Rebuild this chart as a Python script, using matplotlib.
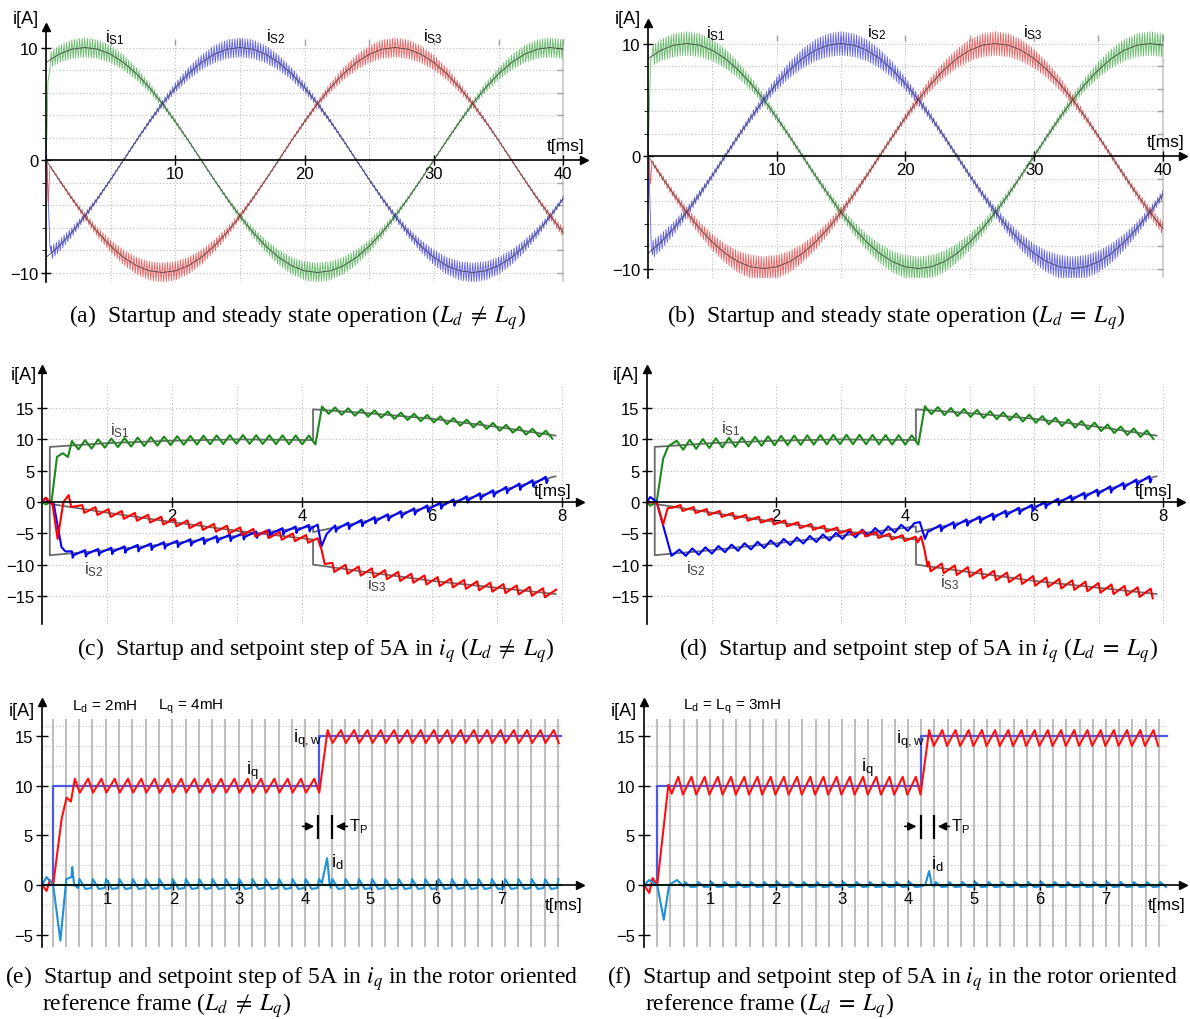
import numpy as np
import matplotlib
matplotlib.use("Agg")
import matplotlib.pyplot as plt

plt.rcParams['font.family'] = ['Liberation Sans', 'DejaVu Sans']
plt.rcParams['mathtext.fontset'] = 'stix'

W, H = 1190, 1020

# ---------------- (a)/(b): phase currents, fundamental read every 1 ms
T_SINE = list(range(41))
IS1 = [8.66, 9.40, 9.85, 10.0, 9.85, 9.40, 8.66, 7.66, 6.43, 5.0, 3.42, 1.74, 0.0,
       -1.74, -3.42, -5.0, -6.43, -7.66, -8.66, -9.40, -9.85, -10.0, -9.85, -9.40,
       -8.66, -7.66, -6.43, -5.0, -3.42, -1.74, 0.0, 1.74, 3.42, 5.0, 6.43, 7.66,
       8.66, 9.40, 9.85, 10.0, 9.85]
IS2 = [-8.66, -7.66, -6.43, -5.0, -3.42, -1.74, 0.0, 1.74, 3.42, 5.0, 6.43, 7.66,
       8.66, 9.40, 9.85, 10.0, 9.85, 9.40, 8.66, 7.66, 6.43, 5.0, 3.42, 1.74, 0.0,
       -1.74, -3.42, -5.0, -6.43, -7.66, -8.66, -9.40, -9.85, -10.0, -9.85, -9.40,
       -8.66, -7.66, -6.43, -5.0, -3.42]
IS3 = [0.0, -1.74, -3.42, -5.0, -6.43, -7.66, -8.66, -9.40, -9.85, -10.0, -9.85,
       -9.40, -8.66, -7.66, -6.43, -5.0, -3.42, -1.74, 0.0, 1.74, 3.42, 5.0, 6.43,
       7.66, 8.66, 9.40, 9.85, 10.0, 9.85, 9.40, 8.66, 7.66, 6.43, 5.0, 3.42, 1.74,
       0.0, -1.74, -3.42, -5.0, -6.43]

# startup samples (t [ms], i [A])
A_START = {'g': ([0, 0.08, 0.15, 0.3], [0, 2.5, 7.0, 8.0]),
           'b': ([0, 0.05, 0.3, 0.4], [0, 0.5, -7.6, -8.2]),
           'r': ([0, 0.08, 0.17, 0.3], [0, -0.3, -3.8, -0.6])}
B_START = {'g': ([0, 0.08, 0.2, 0.3], [0, 3.0, 8.5, 8.9]),
           'b': ([0, 0.05, 0.25, 0.35], [0, 0.3, -8.0, -8.8]),
           'r': ([0, 0.1, 0.2, 0.3], [0, -0.5, -2.5, -0.5])}
A_RIPPLE = (0.12, 0.85)   # ripple half height near zero / near peak
B_RIPPLE = (0.25, 1.05)
PWM_PERIOD = 0.2

# ---------------- (c)/(d): setpoints of the phase currents
REF_T_PRE = [0.12, 1.0, 2.0, 3.0, 4.17]
REF_T_POST = [4.17, 5.0, 6.0, 7.0, 7.9]
REF1_PRE = [8.8, 9.4, 9.8, 10.0, 9.9]
REF1_POST = [14.8, 14.2, 13.3, 12.0, 10.6]
REF2_PRE = [-8.5, -7.7, -6.6, -5.4, -3.9]
REF2_POST = [-4.8, -3.0, -0.7, 1.7, 4.1]
REF3_PRE = [-0.3, -1.7, -3.2, -4.6, -6.0]
REF3_POST = [-10.0, -11.2, -12.6, -13.7, -14.7]

TP = 0.2025
TP_F = 0.2

# tooth shapes: (fraction of period, multiple of half height)
SYM = [(0, 1), (0.5, -1)]
FALL = [(0, 1), (0.15, -1)]
SPIKE = [(0, 0.8), (0.06, -1.8), (0.15, -0.8)]
IQ_SHAPE = [(0, 1), (0.37, -1)]
ID_SHAPE = [(0, -0.8), (0.1, 1.0), (0.55, -1.0)]

C_TRACES = {
    'g': dict(start=([0, 0.06, 0.12, 0.15, 0.23, 0.32, 0.40], [0, -0.4, 0, 0.3, 7.2, 7.8, 7.2]),
              p0=0.46, amp=(0.7, 0.55), shape=(SYM, SYM), switch=4.25, step=([], [])),
    'r': dict(start=([0, 0.06, 0.12, 0.16, 0.24, 0.33, 0.41, 0.45], [0, 0.7, 0, -0.3, -5.9, 0, 1.1, -0.8]),
              p0=0.62, amp=(0.6, 0.7), shape=(FALL, FALL), switch=4.2,
              step=([4.24, 4.30, 4.35], [-5.8, -7.6, -9.9])),
    'b': dict(start=([0, 0.05, 0.12, 0.18, 0.30, 0.36], [0, 0.6, -0.1, -0.3, -7.2, -7.9]),
              p0=0.46, amp=(0.4, 0.4), shape=(SPIKE, SPIKE), switch=4.2,
              step=([4.24, 4.30, 4.38], [-3.6, -7.1, -5.1])),
}
D_TRACES = {
    'g': dict(start=([0, 0.05, 0.15, 0.25, 0.33], [0, -0.6, 0, 6.9, 8.9]),
              p0=0.46, amp=(0.75, 0.6), shape=(SYM, SYM), switch=4.25, step=([], [])),
    'r': dict(start=([0, 0.05, 0.15, 0.25, 0.32, 0.40], [0, -0.1, 0, -3.6, -1.0, -0.9]),
              p0=0.52, amp=(0.45, 0.75), shape=(FALL, FALL), switch=4.2,
              step=([4.25, 4.30, 4.35], [-5.5, -7.5, -10.3])),
    'b': dict(start=([0, 0.05, 0.15, 0.38], [0, 0.8, 0, -8.6]),
              p0=0.5, amp=(0.55, 0.4), shape=(SYM, SPIKE), switch=4.2,
              step=([4.23, 4.31, 4.36], [-3.2, -5.9, -4.6])),
}

# ---------------- (e)/(f): rotor frame currents
E_IQW_T = [0, 0.17, 0.17, 4.21, 4.21, 7.9]
F_IQW_T = [0, 0.19, 0.19, 4.19, 4.19, 7.92]
IQW_V = [0, 0, 10, 10, 15, 15]
E_IQ = dict(start=([0, 0.07, 0.12, 0.17, 0.30, 0.375, 0.44], [0, -0.6, 0.5, 0, 6.7, 8.8, 8.4]),
            p0=0.5, amp=(0.7, 0.65), ref=(10.0, 14.95), shape=IQ_SHAPE, switch=4.25, step=([], []))
E_ID = dict(start=([0, 0.07, 0.17, 0.28, 0.37, 0.45, 0.46, 0.49], [0, 0.8, 0, -5.6, 0.6, 0.8, 1.8, 0]),
            p0=0.55, amp=(0.5, 0.5), ref=(0.1, 0.1), shape=ID_SHAPE, switch=4.22,
            step=([4.26, 4.34, 4.38], [0.2, 2.7, 0]))
F_IQ = dict(start=([0, 0.08, 0.13, 0.2, 0.37, 0.42], [0, -0.8, 0.7, 0, 10.1, 9.2]),
            p0=0.52, amp=(0.9, 0.8), ref=(10.0, 14.8), shape=[(0, 1), (0.35, -1)], switch=4.25,
            step=([], []))
F_ID = dict(start=([0, 0.08, 0.2, 0.3, 0.38, 0.5], [0, 0.5, 0, -3.5, 0, 0.5]),
            p0=0.6, amp=(0.25, 0.25), ref=(0.05, 0.05), shape=ID_SHAPE, switch=4.22,
            step=([4.26, 4.32, 4.36], [0, 1.4, 0]))
E_LINES0 = 0.16
F_LINES0 = 0.2

COL3 = {'g': '#1b8a1b', 'b': '#0000ff', 'r': '#ff0000'}
COL_SINE = {'g': '#4cb050', 'b': '#4646e6', 'r': '#e84848'}
GRID = '#b9b9b9'


def make_axes(fig, x0, ppx, xmax, y0, ppy, ytop, ybot):
    # axes placed so that data maps onto the reference pixel positions
    ax = fig.add_axes([x0 / W, 1 - (y0 - ybot * ppy) / H,
                       xmax * ppx / W, (ytop - ybot) * ppy / H])
    ax.set_xlim(0, xmax)
    ax.set_ylim(ybot, ytop)
    ax.patch.set_visible(False)
    ax.spines['top'].set_visible(False)
    ax.spines['right'].set_visible(False)
    ax.spines['bottom'].set_position(('data', 0))
    ax.spines['left'].set_position(('data', 0))
    for s in ['bottom', 'left']:
        ax.spines[s].set_linewidth(1.2)
        ax.spines[s].set_zorder(6)
    ax.plot(1, 0, marker='>', color='k', ms=6, transform=ax.get_yaxis_transform(),
            clip_on=False, zorder=7)
    ax.plot(0, 1, marker='^', color='k', ms=6, transform=ax.get_xaxis_transform(),
            clip_on=False, zorder=7)
    ax.tick_params(axis='x', direction='inout', length=7, width=1, pad=1, labelsize=12)
    ax.tick_params(axis='y', direction='inout', length=7, width=1, pad=2, labelsize=12)
    return ax


def sine_trace(start, ref, amp_lims, t_end=40.0):
    t = np.arange(0.4, t_end + 1e-9, PWM_PERIOD / 2)
    base = np.interp(t, T_SINE, ref)
    a = amp_lims[0] + (amp_lims[1] - amp_lims[0]) * (np.abs(base) / 10) ** 2
    sign = np.where(np.arange(len(t)) % 2 == 0, 1, -1)
    return np.concatenate([start[0], t]), np.concatenate([start[1], base + sign * a])


def tooth_trace(spec, ref_pre, ref_post, t_end, tp):
    # sawtooth around the setpoint; pre and post step shapes may differ
    st, sv = spec['start']
    ts, vs = list(st), list(sv)
    shp = spec['shape'] if isinstance(spec['shape'], tuple) else (spec['shape'], spec['shape'])
    stp_t, stp_v = spec['step']
    last_step = max([spec['switch']] + list(stp_t))
    pre, post = [], []
    for p in np.arange(spec['p0'], t_end, tp):
        for frac, k in shp[0]:
            t = p + frac * tp
            if t < spec['switch']:
                pre.append((t, ref_pre(t) + k * spec['amp'][0]))
        for frac, k in shp[1]:
            t = p + frac * tp
            if last_step < t <= t_end:
                post.append((t, ref_post(t) + k * spec['amp'][1]))
    ts += [a for a, b in pre] + list(stp_t) + [a for a, b in post]
    vs += [b for a, b in pre] + list(stp_v) + [b for a, b in post]
    return ts, vs


def sine_panel(fig, x0, ppx, y0, start, ripple):
    ax = make_axes(fig, x0, ppx, 41.6, y0, 11.25, 11.8, -10.85)
    gy = [v for v in range(-10, 11, 2) if v != 0]
    ax.hlines(gy, 0, 40, colors=GRID, linestyles=(0, (1, 2)), lw=0.8, zorder=1)
    ax.vlines(range(5, 40, 5), -10.85, 10.75, colors=GRID, linestyles=(0, (1, 2)), lw=0.8, zorder=1)
    ax.vlines([40], -10.85, 10.75, colors='#c8c8c8', lw=1.2, zorder=1)
    ax.plot([40] * len(gy), gy, ls='none', marker=0, ms=4, color='#a0a0a0')
    ax.plot(range(5, 41, 5), [10.75] * 8, ls='none', marker=3, ms=4, color='#a0a0a0', clip_on=False)
    for key, ref in [('g', IS1), ('b', IS2), ('r', IS3)]:
        t, v = sine_trace(start[key], ref, ripple)
        ax.plot(t, v, color=COL_SINE[key], lw=0.6, alpha=0.85, zorder=2)
    for ref in [IS1, IS2, IS3]:
        ax.plot(T_SINE, ref, color='#3a3a3a', lw=0.7, alpha=0.8, zorder=3)
    ax.set_xticks([10, 20, 30, 40])
    ax.set_yticks([-10, 0, 10])
    ax.set_yticks(gy, minor=True)
    ax.tick_params(axis='y', which='minor', direction='out', length=3)
    ax.text(5.3, 10.5, r'i$_{\mathregular{S1}}$', fontsize=12, ha='center')
    ax.text(17.8, 10.6, r'i$_{\mathregular{S2}}$', fontsize=12, ha='center')
    ax.text(29.9, 10.6, r'i$_{\mathregular{S3}}$', fontsize=12, ha='center')
    ax.text(40.2, 0.6, 't[ms]', fontsize=12.5, ha='center', va='bottom')
    return ax


def phase_panel(fig, x0, ppx, traces, labels):
    ax = make_axes(fig, x0, ppx, (580 - 42) / 65.0, 503, 6.26, 21.2, -19.5)
    ax.hlines([-15, -10, -5, 5, 10, 15], 0, 7.98, colors=GRID, linestyles=(0, (1, 2)), lw=0.8, zorder=1)
    ax.vlines(range(1, 9), -19.5, 18.85, colors=GRID, linestyles=(0, (1, 2)), lw=0.8, zorder=1)
    refs = {'g': (REF1_PRE, REF1_POST), 'b': (REF2_PRE, REF2_POST), 'r': (REF3_PRE, REF3_POST)}
    for key in ['g', 'b', 'r']:
        pre, post = refs[key]
        ax.plot([0, REF_T_PRE[0]] + REF_T_PRE + REF_T_POST, [0, 0] + pre + post,
                color='#6a6a6a', lw=1.3, zorder=2)
    for key in ['g', 'b', 'r']:
        pre, post = refs[key]
        f_pre = lambda t, p=pre: np.interp(t, REF_T_PRE, p)
        f_post = lambda t, p=post: np.interp(t, REF_T_POST, p)
        t, v = tooth_trace(traces[key], f_pre, f_post, 7.92, TP)
        ax.plot(t, v, color=COL3[key], lw=1.5, zorder=3)
    ax.set_xticks([2, 4, 6, 8])
    ax.set_yticks([-15, -10, -5, 0, 5, 10, 15])
    for (tx, ty, s) in labels:
        ax.text(tx, ty, s, fontsize=12, ha='center', va='center', color='#404040')
    ax.text(7.85, 0.6, 't[ms]', fontsize=12.5, ha='center', va='bottom')
    return ax


def rotor_panel(fig, x0, ppx, iqw_t, iq, idd, lines0, tp, xmax):
    ax = make_axes(fig, x0, ppx, xmax, 886, 9.93, 18.4, -6.2)
    ax.hlines([v for v in range(-4, 17, 2) if v != 0], 0, 7.9, colors=GRID,
              linestyles=(0, (1, 2)), lw=0.8, zorder=1)
    ax.vlines(np.arange(lines0, 7.9, tp), -6.2, 16.7, colors='#b8b8b8', lw=1.3, zorder=1)
    ax.plot([0, 7.9], [0, 0], color='#2ca02c', lw=1.5, zorder=3)
    ax.plot(iqw_t, IQW_V, color='#4b5ae2', lw=1.6, zorder=3)
    for spec, col in [(iq, '#ff1010'), (idd, '#1f8fd6')]:
        f_pre = lambda t, r=spec['ref'][0]: r + 0 * t
        f_post = lambda t, r=spec['ref'][1]: r + 0 * t
        t, v = tooth_trace(spec, f_pre, f_post, 7.92, tp)
        ax.plot(t, v, color=col, lw=1.5, zorder=4)
    ax.set_xticks(range(1, 8))
    ax.set_yticks([-5, 0, 5, 10, 15])
    ax.tick_params(axis='y', length=9)
    ax.text(xmax - 0.25, -1.2, 't[ms]', fontsize=12.5, ha='center', va='top')
    return ax


fig = plt.figure(figsize=(W / 100, H / 100), dpi=100)

# (a) and (b)
sine_panel(fig, 46, 12.93, 161, A_START, A_RIPPLE)
sine_panel(fig, 648, 12.87, 157, B_START, B_RIPPLE)

# (c) and (d)
phase_panel(fig, 42, 65.0, C_TRACES,
            [(1.2, 11.6, r'i$_{\mathregular{S1}}$'), (0.8, -10.7, r'i$_{\mathregular{S2}}$'),
             (5.15, -13.0, r'i$_{\mathregular{S3}}$')])
phase_panel(fig, 647, 64.5, D_TRACES,
            [(1.3, 11.9, r'i$_{\mathregular{S1}}$'), (0.75, -10.5, r'i$_{\mathregular{S2}}$'),
             (4.7, -12.7, r'i$_{\mathregular{S3}}$')])

# (e) and (f)
ae = rotor_panel(fig, 42, 65.7, E_IQW_T, E_IQ, E_ID, E_LINES0, TP, (580 - 42) / 65.7)
af = rotor_panel(fig, 644, 66.0, F_IQW_T, F_IQ, F_ID, F_LINES0, TP_F, (1183 - 644) / 66.0)

for ax, pos in [(ae, dict(iq=(3.2, 11.6), iqw=(3.82, 14.8), idl=(4.5, 2.4), bars=(4.205, 4.41), tpx=4.67)),
                (af, dict(iq=(3.38, 11.9), iqw=(3.82, 14.7), idl=(4.45, 2.2), bars=(4.19, 4.39), tpx=4.65))]:
    ax.text(*pos['iq'], r'i$_{\mathregular{q}}$', fontsize=13.5, ha='center', va='center')
    ax.text(*pos['iqw'], r'i$_{\mathregular{q,w}}$', fontsize=13.5, ha='left', va='center')
    ax.text(*pos['idl'], r'i$_{\mathregular{d}}$', fontsize=13.5, ha='center', va='center')
    b1, b2 = pos['bars']
    ax.vlines([b1, b2], 4.6, 7.0, colors='k', lw=1.6, zorder=6)
    ax.annotate('', xy=(b1 - 0.02, 5.9), xytext=(b1 - 0.28, 5.9),
                arrowprops=dict(arrowstyle='-|>', color='k', lw=1.2, mutation_scale=12))
    ax.annotate('', xy=(b2 + 0.02, 5.9), xytext=(b2 + 0.28, 5.9),
                arrowprops=dict(arrowstyle='-|>', color='k', lw=1.2, mutation_scale=12))
    ax.text(pos['tpx'], 5.9, r'T$_{\mathregular{P}}$', fontsize=11.5, ha='left', va='center')

fig.text(72 / W, 1 - 707 / H, r'L$_{\mathregular{d}}$ = 2mH', fontsize=11, va='center')
fig.text(158 / W, 1 - 707 / H, r'L$_{\mathregular{q}}$ = 4mH', fontsize=11, va='center')
fig.text(683 / W, 1 - 707 / H, r'L$_{\mathregular{d}}$ = L$_{\mathregular{q}}$ = 3mH', fontsize=11, va='center')

# axis names
for x, y in [(26, 20), (628, 20), (24, 375), (626, 375), (22, 712), (624, 712)]:
    fig.text(x / W, 1 - y / H, 'i[A]', fontsize=13, ha='center', va='center')

# captions
cap = dict(fontsize=17, family='Liberation Serif', va='center')
NEQ = r'($L_d\;\neq\;L_q$)'
EQ = r'($L_d\;=\;L_q$)'
fig.text(298 / W, 1 - 318 / H, '(a)  Startup and steady state operation ' + NEQ, ha='center', **cap)
fig.text(896 / W, 1 - 318 / H, '(b)  Startup and steady state operation ' + EQ, ha='center', **cap)
fig.text(316 / W, 1 - 651 / H, '(c)  Startup and setpoint step of 5A in $i_q$ ' + NEQ, ha='center', **cap)
fig.text(918 / W, 1 - 651 / H, '(d)  Startup and setpoint step of 5A in $i_q$ ' + EQ, ha='center', **cap)
fig.text(5 / W, 1 - 979 / H, '(e)  Startup and setpoint step of 5A in $i_q$ in the rotor oriented', ha='left', **cap)
fig.text(42 / W, 1 - 1006 / H, 'reference frame ' + NEQ, ha='left', **cap)
fig.text(607 / W, 1 - 979 / H, '(f)  Startup and setpoint step of 5A in $i_q$ in the rotor oriented', ha='left', **cap)
fig.text(645 / W, 1 - 1006 / H, 'reference frame ' + EQ, ha='left', **cap)

fig.savefig('out.png', dpi=100)
